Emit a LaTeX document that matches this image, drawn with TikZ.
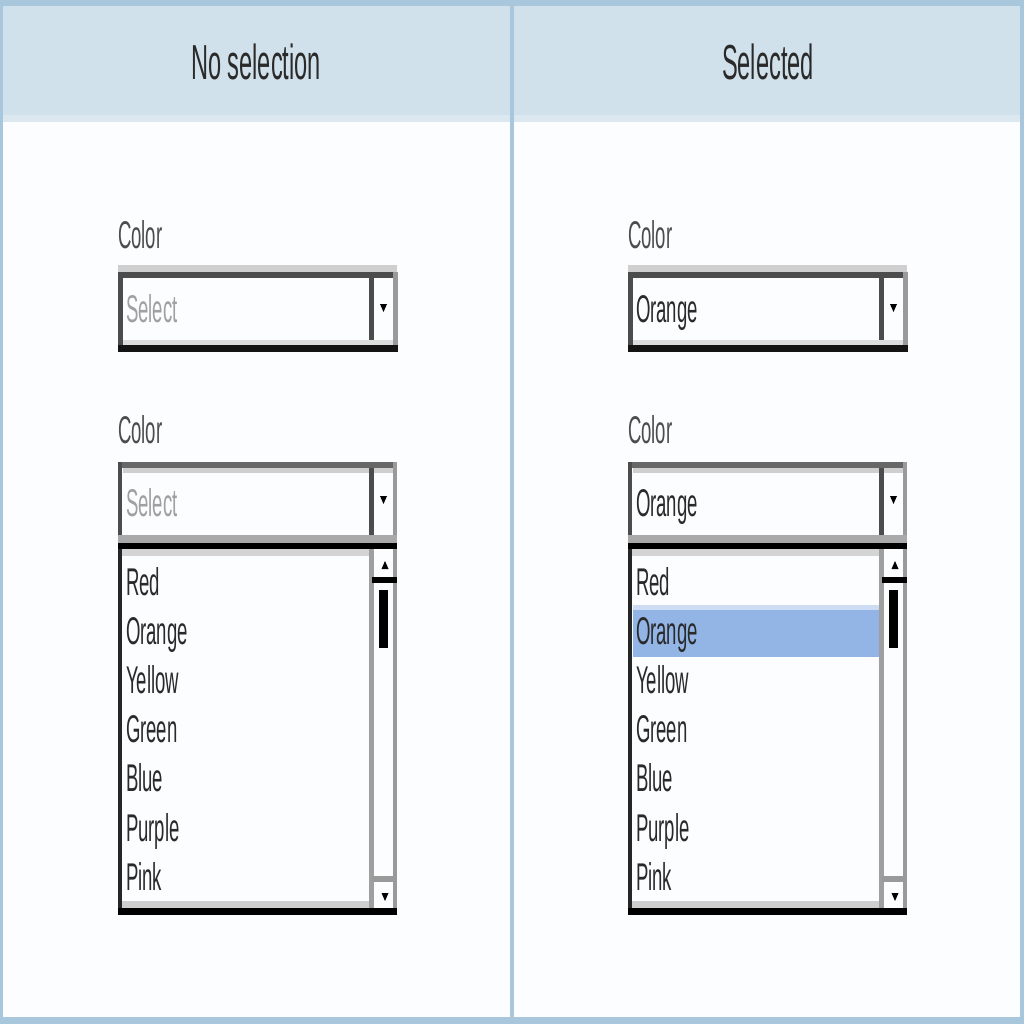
\documentclass[tikz,border=0pt]{standalone}
\usepackage{fontspec}
\newfontfamily\uifont[FakeStretch=0.48]{Liberation Sans}
\usetikzlibrary{positioning}
\definecolor{frame}{HTML}{A9C7DC}
\definecolor{head}{HTML}{D1E1EB}
\definecolor{headlow}{HTML}{DCE8EF}
\definecolor{body}{HTML}{FCFDFE}
\definecolor{edge}{HTML}{4C4C4C}
\definecolor{edgelight}{HTML}{CFCFCF}
\definecolor{edgegray}{HTML}{9A9A9A}
\definecolor{pick}{HTML}{93B5E6}
\definecolor{picklight}{HTML}{CDDCF3}
\definecolor{hintgray}{HTML}{A0A0A0}
\definecolor{itemgray}{HTML}{2A2A2A}
\tikzstyle{every node}=[font=\uifont\fontsize{22pt}{24pt}\selectfont,inner sep=0pt,outer sep=0pt]
\tikzstyle{item}=[anchor=base west,text=itemgray]
\tikzstyle{hint}=[anchor=base west,text=hintgray]
\tikzstyle{title}=[anchor=base,font=\uifont\fontsize{28pt}{30pt}\selectfont,text=itemgray]
% small triangles of the arrows
\newcommand{\arrdown}[2]{\fill (#1-3.5,#2-4)--(#1+3.5,#2-4)--(#1,#2+4)--cycle;}
\newcommand{\arrup}[2]{\fill (#1-3.5,#2+4)--(#1+3.5,#2+4)--(#1,#2-4)--cycle;}

\begin{document}
\begin{tikzpicture}[x=0.02cm,y=-0.02cm]
  \useasboundingbox (0,0) rectangle (1024,1024);
  \fill[frame] (0,0) rectangle (1024,1024);
  \fill[body] (3,6) rectangle (1020,1017);
  \fill[head] (3,6) rectangle (1020,115);
  \fill[headlow] (3,115) rectangle (1020,122);
  \fill[frame] (510,0) rectangle (514,1024);
  \node[title] (titleL) at (256,80) {No selection};
  \node[title] (titleR) at (768,80) {Selected};
  % selected row
  \fill[picklight] (633,605) rectangle (879,610);
  \fill[pick] (633,610) rectangle (879,657);
  \foreach \p/\dx/\val/\vs in {L/0/Select/hint,R/510/Orange/item}{
  \begin{scope}[shift={(\dx,0)}]
    % closed box
    \node[item,text=edge] (colorA\p) at (118,248) {Color};
    \fill[edgelight] (118,265) rectangle (397,272);
    \fill[edge] (118,272) rectangle (397,278);
    \fill[edge] (118,272) rectangle (123,352);
    \fill[edge] (369,278) rectangle (374,345);
    \fill[edgegray] (393,272) rectangle (398,352);
    \fill[edgelight!70] (123,340) rectangle (393,345);
    \fill[black!92] (118,345) rectangle (398,352);
    \arrdown{383.5}{308}
    \node[\vs] (valA\p) at (126,322) {\val};
    % open box
    \node[item,text=edge] (colorB\p) at (118,443) {Color};
    \fill[edge!85] (118,462) rectangle (397,468);
    \fill[edgelight] (123,468) rectangle (393,473);
    \fill[edge] (118,462) rectangle (122,549);
    \fill[edge] (369,468) rectangle (374,549);
    \fill[edgegray] (393,462) rectangle (397,549);
    \arrdown{383.5}{500}
    \fill[edgegray!85] (118,535) rectangle (397,543);
    \fill[black] (118,543) rectangle (397,549);
    \node[\vs] (valB\p) at (126,516) {\val};
    % list
    \fill[edgelight!90] (122,549) rectangle (372,556);
    \fill[black!85] (118,549) rectangle (122,915);
    \fill[edgegray!95] (369,549) rectangle (374,908);
    \fill[edgegray] (393,549) rectangle (397,915);
    \arrup{385}{565}
    \fill[black] (372,577) rectangle (397,583);
    \fill[black] (379,590) rectangle (388,648);
    \fill[edgegray] (372,876) rectangle (395,882);
    \arrdown{385}{897}
    \fill[edgelight] (122,901) rectangle (369,908);
    \fill[black] (118,908) rectangle (397,915);
    \foreach \t [count=\i] in {Red,Orange,Yellow,Green,Blue,Purple,Pink}
      \node[item] (item\p\i) at (126,{595+49.2*(\i-1)}) {\t};
  \end{scope}}
\end{tikzpicture}
\end{document}
